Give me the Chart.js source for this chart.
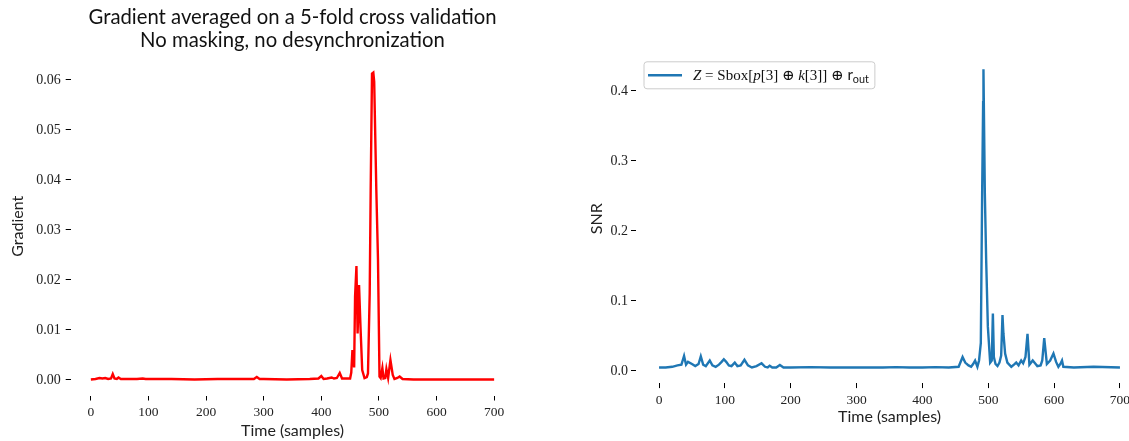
<!DOCTYPE html>
<html>
<head>
<meta charset="utf-8">
<script src="https://cdn.jsdelivr.net/npm/chart.js@4/dist/chart.umd.min.js"></script>
<style>
  html, body { margin: 0; padding: 0; background: #fff; overflow: hidden; width: 1129px; height: 441px; }
  #wrapL { position: absolute; left: 0; top: 0; width: 560px; height: 441px; }
  #wrapR { position: absolute; left: 560px; top: 0; width: 600px; height: 441px; }
</style>
</head>
<body>
<div id="wrapL"><canvas id="left"></canvas></div>
<div id="wrapR"><canvas id="right"></canvas></div>
<script>
// ---------------- data ----------------
const xTicks = [0, 100, 200, 300, 400, 500, 600, 700];
const gradTicks = [0.00, 0.01, 0.02, 0.03, 0.04, 0.05, 0.06];
const snrTicks = [0.0, 0.1, 0.2, 0.3, 0.4];

const gradTime = [0, 8, 15, 20, 25, 30, 35, 38, 41, 45, 48, 52, 60, 80, 90, 95, 110, 140, 180, 220, 260, 283, 288, 293, 300, 340, 380, 395, 400, 404, 410, 418, 422, 427, 432, 436, 440, 450, 452, 454, 457, 458.6, 461, 463, 465.5, 468, 471, 475, 479, 481, 484, 485.7, 488, 490.3, 491.8, 495.5, 498.4, 501, 503, 506, 508, 511, 513, 516, 520, 524, 527, 532, 536, 541, 560, 600, 650, 700];
const gradValue = [0.0001, 0.0002, 0.0004, 0.0003, 0.0004, 0.0002, 0.0003, 0.0012, 0.0003, 0.0002, 0.0005, 0.0002, 0.0002, 0.0002, 0.0003, 0.0002, 0.0002, 0.0002, 0.0001, 0.0002, 0.0002, 0.0002, 0.0006, 0.0002, 0.0002, 0.0001, 0.0002, 0.0003, 0.0008, 0.0002, 0.0003, 0.0005, 0.0003, 0.0004, 0.0014, 0.0003, 0.0003, 0.0003, 0.0015, 0.006, 0.0025, 0.0167, 0.0228, 0.0093, 0.019, 0.0107, 0.002, 0.0004, 0.0006, 0.0013, 0.0173, 0.038, 0.0613, 0.0615, 0.0597, 0.038, 0.024, 0.0007, 0.0004, 0.0024, 0.0003, 0.0004, 0.0022, 0.0004, 0.004, 0.001, 0.0002, 0.0004, 0.0007, 0.0002, 0.0001, 0.0001, 0.0001, 0.0001];

const snrTime = [0, 10, 20, 28, 34, 38, 41, 44, 50, 55, 60, 63.4, 67, 71, 77, 81, 86, 91, 95, 98.4, 102, 106, 110, 115, 119, 124, 129.7, 135, 141, 148, 155.7, 161, 165, 168, 172, 178, 183.5, 189, 200, 230, 260, 300, 340, 360, 380, 400, 420, 440, 455, 461, 465, 470, 474, 477, 480, 483.5, 486, 488.7, 490.7, 492.2, 492.7, 494.8, 496.8, 499.4, 502.9, 505.3, 507, 508.5, 511, 514, 517, 519.6, 521.6, 523, 525.6, 529, 535, 539, 542.5, 546, 550, 553, 556.5, 559.6, 562.5, 567.5, 571, 574.5, 579.5, 582, 585, 589, 594, 599, 603, 606.5, 609.5, 612, 614, 630, 660, 700];
const snrValue = [0.005, 0.005, 0.006, 0.008, 0.009, 0.0214, 0.009, 0.013, 0.01, 0.007, 0.01, 0.021, 0.009, 0.007, 0.015, 0.008, 0.006, 0.009, 0.013, 0.0167, 0.013, 0.008, 0.007, 0.012, 0.007, 0.008, 0.016, 0.008, 0.005, 0.007, 0.011, 0.006, 0.005, 0.0076, 0.005, 0.005, 0.0086, 0.005, 0.005, 0.0055, 0.005, 0.005, 0.005, 0.0055, 0.005, 0.005, 0.0055, 0.005, 0.006, 0.02, 0.012, 0.008, 0.006, 0.01, 0.015, 0.006, 0.015, 0.04, 0.254, 0.384, 0.431, 0.254, 0.159, 0.063, 0.012, 0.015, 0.082, 0.02, 0.01, 0.007, 0.012, 0.022, 0.08, 0.054, 0.025, 0.012, 0.006, 0.009, 0.012, 0.008, 0.015, 0.011, 0.02, 0.053, 0.009, 0.015, 0.011, 0.007, 0.008, 0.015, 0.047, 0.01, 0.015, 0.025, 0.013, 0.006, 0.01, 0.015, 0.006, 0.005, 0.006, 0.005];

const leftTitle = ['Gradient averaged on a 5-fold cross validation', 'No masking, no desynchronization'];
const xTitle = 'Time (samples)';
const gradTitle = 'Gradient';
const snrTitle = 'SNR';
const snrLabel = 'Z = Sbox[p[3] ⊕ k[3]] ⊕ r_out';

// ---------------- helpers ----------------
const SANS = 'Lato, "Open Sans", sans-serif';
const SERIF = '"Liberation Serif", "DejaVu Serif", serif';
const toPts = (xs, ys) => xs.map((x, i) => ({ x: x, y: ys[i] }));
const setTicks = (vals) => (scale) => { scale.ticks = vals.map(v => ({ value: v })); };

function tickGrid() {
  return { display: true, drawOnChartArea: false, drawTicks: true, tickLength: 5, color: '#000', lineWidth: 1 };
}

function makeX(titlePadBottom, height) {
  return {
    type: 'linear', min: -35, max: 735,
    afterBuildTicks: setTicks(xTicks),
    afterFit: (s) => { s.height = height; },
    grid: tickGrid(), border: { display: false },
    ticks: { font: { family: SERIF, size: 13.5 }, color: '#222', padding: 4, maxRotation: 0,
             callback: (v) => String(v) },
    title: { display: true, text: xTitle, font: { family: SANS, size: 16 }, color: '#222',
             padding: { top: 0, bottom: titlePadBottom } }
  };
}

// ---------------- left chart ----------------
new Chart(document.getElementById('left'), {
  type: 'line',
  data: { datasets: [{ label: 'Gradient', data: toPts(gradTime, gradValue),
    borderColor: '#ff0000', borderWidth: 2.4, pointRadius: 0, tension: 0, fill: false }] },
  options: {
    responsive: true, maintainAspectRatio: false, animation: false,
    layout: { padding: { left: 0, right: 45.7, top: 0, bottom: 0 } },
    plugins: {
      legend: { display: false }, tooltip: { enabled: false },
      title: { display: true, fullSize: false, text: leftTitle, color: '#111',
               font: { family: SANS, size: 20.3, weight: 'normal', lineHeight: 1.13 },
               padding: { top: 6, bottom: 5.1 } }
    },
    scales: {
      x: makeX(1, 45.5),
      y: {
        type: 'linear', min: -0.0031, max: 0.0646,
        afterBuildTicks: setTicks(gradTicks),
        afterFit: (s) => { s.width = 70.7; },
        grid: tickGrid(), border: { display: false },
        ticks: { font: { family: SERIF, size: 14 }, color: '#222', padding: 5,
                 callback: (v) => Number(v).toFixed(2) },
        title: { display: true, text: gradTitle, font: { family: SANS, size: 16 }, color: '#222',
                 padding: { top: 8, bottom: 0 } }
      }
    }
  }
});

// ---------------- right chart ----------------
const mathLegend = {
  id: 'mathLegend',
  afterDraw(chart) {
    const ctx = chart.ctx, ca = chart.chartArea;
    const ds = chart.data.datasets[0];
    const x0 = ca.left + 8, y0 = ca.top + 7.5, h = 27;
    const fs = 15;
    const pieces = [
      { t: 'Z', f: `italic ${fs}px ${SERIF}` },
      { t: ' = Sbox[', f: `${fs}px ${SERIF}` },
      { t: 'p', f: `italic ${fs}px ${SERIF}` },
      { t: '[3] ⊕ ', f: `${fs}px ${SERIF}` },
      { t: 'k', f: `italic ${fs}px ${SERIF}` },
      { t: '[3]] ⊕ ', f: `${fs}px ${SERIF}` },
      { t: 'r', f: `${fs}px ${SANS}` },
      { t: 'out', f: `${fs * 0.72}px ${SANS}`, dy: 3 }
    ];
    ctx.save();
    let tw = 0;
    pieces.forEach(p => { ctx.font = p.f; p.w = ctx.measureText(p.t).width; tw += p.w; });
    const textX = x0 + 49;
    const w = (textX - x0) + tw + 6;
    ctx.beginPath();
    const r = 3;
    ctx.moveTo(x0 + r, y0);
    ctx.arcTo(x0 + w, y0, x0 + w, y0 + h, r);
    ctx.arcTo(x0 + w, y0 + h, x0, y0 + h, r);
    ctx.arcTo(x0, y0 + h, x0, y0, r);
    ctx.arcTo(x0, y0, x0 + w, y0, r);
    ctx.closePath();
    ctx.fillStyle = 'rgba(255,255,255,0.8)';
    ctx.fill();
    ctx.strokeStyle = '#cccccc';
    ctx.lineWidth = 1;
    ctx.stroke();
    ctx.beginPath();
    ctx.moveTo(x0 + 4, y0 + h / 2);
    ctx.lineTo(x0 + 38, y0 + h / 2);
    ctx.strokeStyle = ds.borderColor;
    ctx.lineWidth = 2.4;
    ctx.stroke();
    ctx.fillStyle = '#111';
    ctx.textBaseline = 'alphabetic';
    let tx = textX;
    const base = y0 + h / 2 + 5;
    pieces.forEach(p => { ctx.font = p.f; ctx.fillText(p.t, tx, base + (p.dy || 0)); tx += p.w; });
    ctx.restore();
  }
};

new Chart(document.getElementById('right'), {
  type: 'line',
  data: { datasets: [{ label: snrLabel, data: toPts(snrTime, snrValue),
    borderColor: '#1f77b4', borderWidth: 2.4, pointRadius: 0, tension: 0, fill: false }] },
  options: {
    responsive: true, maintainAspectRatio: false, animation: false,
    layout: { padding: { left: 0, right: 17, top: 54.3, bottom: 0 } },
    plugins: { legend: { display: false }, tooltip: { enabled: false }, title: { display: false } },
    scales: {
      x: makeX(14.6, 57.9),
      y: {
        type: 'linear', min: -0.0173, max: 0.4524,
        afterBuildTicks: setTicks(snrTicks),
        afterFit: (s) => { s.width = 76; },
        grid: tickGrid(), border: { display: false },
        ticks: { font: { family: SERIF, size: 14 }, color: '#222', padding: 3,
                 callback: (v) => Number(v).toFixed(1) },
        title: { display: true, text: snrTitle, font: { family: SANS, size: 16 }, color: '#222',
                 padding: { top: 27, bottom: 0 } }
      }
    }
  },
  plugins: [mathLegend]
});
</script>
</body>
</html>
